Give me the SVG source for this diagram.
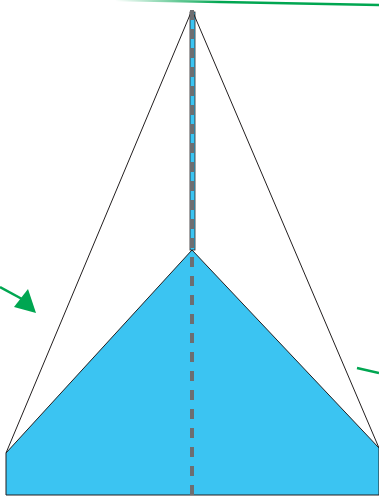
<svg xmlns="http://www.w3.org/2000/svg" width="379" height="499" viewBox="0 0 379 499">
<style>
.edge{stroke:#231f20;stroke-width:1;fill:none}
.green{stroke:#00a651;stroke-width:2.5;fill:none}
.dash{stroke:#6d6e71;stroke-width:4;stroke-dasharray:10 9;fill:none}
</style>
<defs>
<linearGradient id="fade" x1="115" y1="0" x2="220" y2="0" gradientUnits="userSpaceOnUse">
<stop offset="0" stop-color="#00a651" stop-opacity="0"/>
<stop offset="1" stop-color="#00a651" stop-opacity="1"/>
</linearGradient>
</defs>
<rect width="379" height="499" fill="#ffffff"/>
<g id="shape">
<polygon points="192,250 6,453 6,495 379,495 379,448" fill="#3bc4f2" stroke="#231f20" stroke-width="1"/>
<rect x="190" y="12" width="5" height="238" fill="#3bc4f2" stroke="#231f20" stroke-width="0.8"/>
<line class="edge" x1="192" y1="10" x2="6" y2="453"/>
<line class="edge" x1="192" y1="10" x2="379" y2="448"/>
</g>
<g id="axis">
<line class="dash" x1="192" y1="10" x2="192" y2="499"/>
</g>
<g id="connectors">
<line x1="115" y1="0" x2="379" y2="5" stroke="url(#fade)" stroke-width="2.5"/>
<line class="green" x1="0" y1="287" x2="22" y2="299"/>
<polygon points="28,289 36,313 14,307" fill="#00a651"/>
<line class="green" x1="357" y1="368" x2="379" y2="373"/>
</g>
</svg>
